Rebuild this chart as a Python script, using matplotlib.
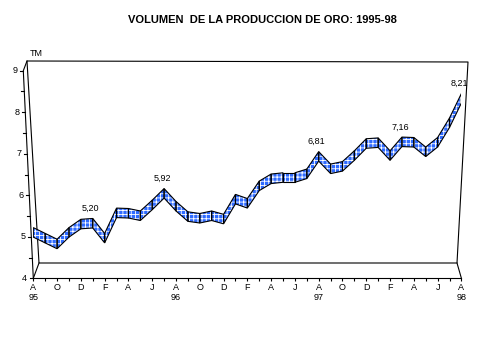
import matplotlib
matplotlib.use('Agg')
import matplotlib.pyplot as plt
import matplotlib.transforms as mtransforms
from matplotlib.patches import Polygon

plt.rcParams['font.family'] = ['Liberation Sans', 'DejaVu Sans']
plt.rcParams['hatch.color'] = 'white'
plt.rcParams['hatch.linewidth'] = 0.6

# Volumen mensual de produccion de oro (TM), agosto 1995 - agosto 1998
month_initials = ['A', 'S', 'O', 'N', 'D', 'E', 'F', 'M', 'A', 'M', 'J', 'J']
years = ['95', '96', '97', '98']
volumen = [4.98, 4.84, 4.70, 4.98, 5.18, 5.20, 4.84, 5.45, 5.44, 5.38, 5.64, 5.92,
           5.61, 5.36, 5.32, 5.38, 5.30, 5.78, 5.68, 6.10, 6.27, 6.30, 6.30, 6.39,
           6.81, 6.51, 6.57, 6.83, 7.12, 7.14, 6.83, 7.16, 7.15, 6.92, 7.15, 7.62, 8.21]
labelled = [5, 11, 24, 31, 36]
y_ticks = [4, 5, 6, 7, 8, 9]

W, H = 479, 359
X0, X1 = 33.3, 461.4      # front axis, pixels
YB, YT = 278.3, 70.7

fig = plt.figure(figsize=(W / 100, H / 100), dpi=100)
fig.patch.set_facecolor('white')
ax = fig.add_axes([X0 / W, 1 - YB / H, (X1 - X0) / W, (YB - YT) / H])
ax.set_xlim(0, len(volumen) - 1)
ax.set_ylim(y_ticks[0], y_ticks[-1])
ax.patch.set_visible(False)
for s in ['top', 'right', 'left']:
    ax.spines[s].set_visible(False)
ax.spines['bottom'].set_linewidth(0.8)


def fx(px):
    return (px - X0) / (X1 - X0)


def fy(py):
    return (YB - py) / (YB - YT)


# 3D frame (back wall + slanted front axis)
frame = [
    [(33.3, 278.3), (23.3, 70.7), (27, 61), (468, 62), (457, 263), (461.4, 278.3)],
    [(27, 61), (39, 263), (457, 263)],
    [(39, 263), (33.3, 278.3)],
]
for seg in frame:
    ax.plot([fx(p[0]) for p in seg], [fy(p[1]) for p in seg], color='black',
            lw=0.8, transform=ax.transAxes, clip_on=False, zorder=1)

# slanted y axis ticks and labels
blend = mtransforms.blended_transform_factory(ax.transAxes, ax.transData)
span = X1 - X0
def axis_x(v):
    return -10 * (v - y_ticks[0]) / (y_ticks[-1] - y_ticks[0]) / span

for k in range(len(y_ticks) * 2 - 1):
    v = y_ticks[0] + k * 0.5
    ax.plot([axis_x(v), axis_x(v) - 3.5 / span], [v, v], color='black', lw=0.8,
            transform=blend, clip_on=False)
for v in y_ticks:
    ax.text(axis_x(v) - 6 / span, v, str(v), transform=blend, ha='right',
            va='center', fontsize=6.5)

ax.text(fx(36), fy(54), 'TM', transform=ax.transAxes, ha='center', va='center',
        fontsize=6.5)

# x axis: every month ticked, every second month labelled
xlabels = []
for i in range(len(volumen)):
    m = month_initials[i % 12]
    if i % 2:
        xlabels.append('')
    elif i % 12 == 0:
        xlabels.append(m + '\n' + years[i // 12])
    else:
        xlabels.append(m)
ax.set_xticks(range(len(volumen)))
ax.set_xticklabels(xlabels, fontsize=6.5, linespacing=1.05)
ax.tick_params(axis='x', direction='out', length=2.5, width=0.8, pad=1)
ax.set_yticks([])

# ribbon
FRONT = 0.5 / 41.5
BACK = 10 / 41.5
for i in range(len(volumen) - 1):
    a, b = volumen[i], volumen[i + 1]
    quad = [(i, a + FRONT), (i + 1, b + FRONT), (i + 1, b + BACK), (i, a + BACK)]
    ax.add_patch(Polygon(quad, closed=True, facecolor='#2f6bff', edgecolor='white',
                         hatch='++++', lw=0, zorder=3))
    ax.add_patch(Polygon(quad, closed=True, fill=False, edgecolor='black',
                         lw=0.8, zorder=4))

for i in labelled:
    txt = f'{volumen[i]:.2f}'.replace('.', ',')
    ax.annotate(txt, (i, volumen[i] + FRONT), xytext=(-1.5, 14),
                textcoords='offset points', ha='center', va='center',
                fontsize=6.5, zorder=5)

fig.text(262 / W, 1 - 20 / H, 'VOLUMEN  DE LA PRODUCCION DE ORO: 1995-98',
         ha='center', va='center', fontsize=8, fontweight='bold')

fig.savefig('out.png', dpi=100, facecolor='white')
